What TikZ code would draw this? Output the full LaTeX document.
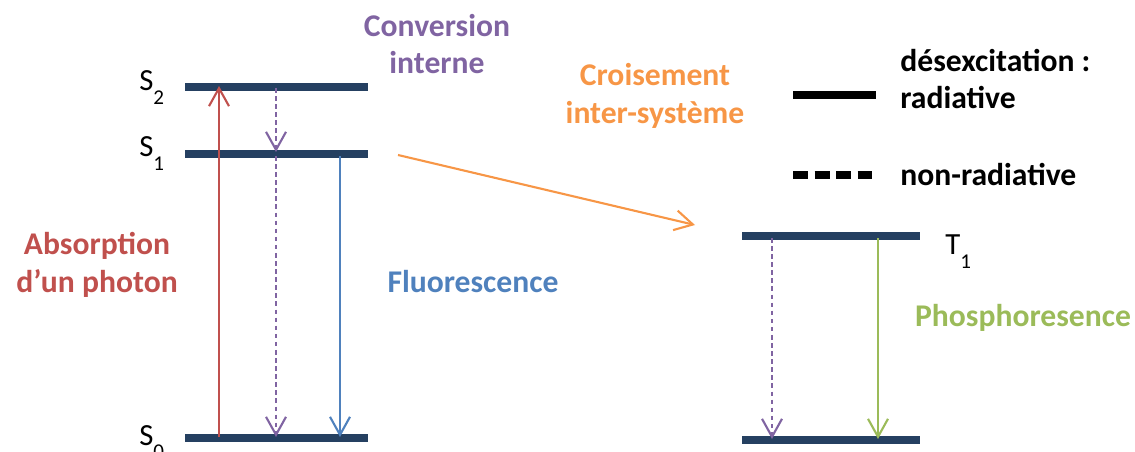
\documentclass[tikz,border=0pt]{standalone}
\usepackage{fontspec}
\setmainfont{Carlito}
\usetikzlibrary{arrows.meta}

\definecolor{levelblue}{HTML}{254061}
\definecolor{absred}{HTML}{C0504D}
\definecolor{convpurple}{HTML}{8064A2}
\definecolor{fluoblue}{HTML}{4F81BD}
\definecolor{isorange}{HTML}{F79646}
\definecolor{phosgreen}{HTML}{9BBB59}

\tikzset{
  level/.style={levelblue, line width=4pt},
  trans/.style={line width=1.2pt, -{Straight Barb[length=3.6mm,width=4mm,line width=1.2pt]}},
  nonrad/.style={trans, dash pattern=on 2.6pt off 2pt},
  label/.style={font=\fontsize{18}{21.6}\selectfont\bfseries, align=center, inner sep=0pt},
  statelab/.style={font=\fontsize{17.5}{20}\selectfont, inner sep=0pt}
}

\newcommand{\stname}[2]{#1\raisebox{-7.5pt}{\fontsize{12}{14}\selectfont #2}}

\begin{document}
\begin{tikzpicture}[x=0.02cm, y=-0.02cm]
\useasboundingbox (0,0) rectangle (1135,452);

% energy levels
\draw[level] (185,87) coordinate (s2a) -- (368,87) coordinate (s2b);
\draw[level] (185,154) coordinate (s1a) -- (368,154) coordinate (s1b);
\draw[level] (185,438) coordinate (s0a) -- (368,438) coordinate (s0b);
\draw[level] (742,236) coordinate (t1a) -- (920,236) coordinate (t1b);
\draw[level] (742,440) coordinate (g0a) -- (920,440) coordinate (g0b);

\node[statelab, anchor=base west] (s2) at (139,91) {\stname{S}{2}};
\node[statelab, anchor=base west] (s1) at (139,157) {\stname{S}{1}};
\node[statelab, anchor=base west] (s0) at (139,445) {\stname{S}{0}};
\node[statelab, anchor=base west] (t1) at (945,255) {\stname{T}{1}};

% transitions
\coordinate (absbot) at (219,437);
\coordinate (abstop) at (219,86);
\coordinate (ictop) at (276,88);
\coordinate (icmid) at (276,152);
\coordinate (icmidb) at (276,156);
\coordinate (icbot) at (276,437);
\coordinate (flutop) at (340,156);
\coordinate (flubot) at (340,437);
\coordinate (isstart) at (398,155);
\coordinate (isend) at (695,225);
\coordinate (ttop) at (772,238);
\coordinate (tbot) at (772,439);
\coordinate (phtop) at (878,238);
\coordinate (phbot) at (878,439);

\draw[trans, absred] (absbot) -- (abstop);
\draw[nonrad, convpurple] (ictop) -- (icmid);
\draw[nonrad, convpurple] (icmidb) -- (icbot);
\draw[trans, fluoblue] (flutop) -- (flubot);
\draw[trans, isorange] (isstart) -- (isend);
\draw[nonrad, convpurple] (ttop) -- (tbot);
\draw[trans, phosgreen] (phtop) -- (phbot);

% labels
\node[label, text=convpurple] (conv) at (437,44) {Conversion\\interne};
\node[label, text=isorange] (iscross) at (655,96) {Croisement\\inter-système};
\node[label, text=absred] (absorb) at (97,265) {Absorption\\d’un photon};
\node[label, text=fluoblue] (fluo) at (473,282) {Fluorescence};
\node[label, text=phosgreen] (phos) at (1023,318) {Phosphoresence};

% legend
\draw[black, line width=4pt] (793,95) coordinate (rada) -- (876,95) coordinate (radb);
\draw[black, line width=4pt, dash pattern=on 0.3cm off 0.13cm] (793,175) coordinate (nra) -- (876,175) coordinate (nrb);
\node[label, align=left, anchor=west] (radtxt) at (900,79) {désexcitation :\\radiative};
\node[label, align=left, anchor=west] (nrtxt) at (900,175) {non-radiative};
\end{tikzpicture}
\end{document}
